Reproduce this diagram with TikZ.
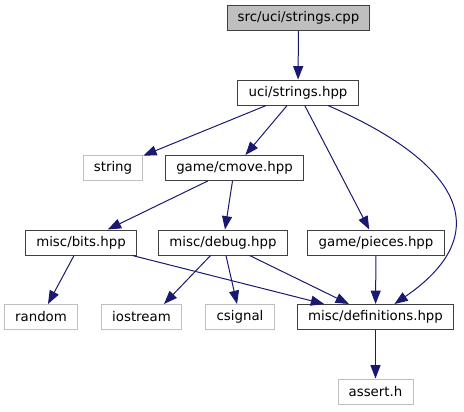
\documentclass[tikz,border=0pt]{standalone}
\usepackage{fontspec}
\setsansfont{DejaVu Sans}
\usetikzlibrary{arrows.meta}
\definecolor{cedge}{HTML}{191970}
\definecolor{cframe}{HTML}{404040}
\definecolor{csys}{HTML}{BFBFBF}
\definecolor{cmain}{HTML}{BFBFBF}
\tikzset{
  every picture/.style={font=\sffamily, line width=0.75pt},
  file/.style={draw=#1, fill=white, inner xsep=8pt, inner ysep=0pt, minimum height=18.75pt},
  file/.default=cframe,
  dep/.style={-{Triangle[length=10pt, width=7.5pt]}, draw=cedge, line width=0.75pt},
}
\begin{document}
\begin{tikzpicture}[x=0.75pt, y=-0.75pt,
  mainfile/.style={file, fill=cmain},
  sysfile/.style={file=csys}]
  \useasboundingbox (0,0) rectangle (464,411);
  % include graph, top to bottom
  \node[mainfile] (cpp) at (298.5, 18) {src/uci/strings.cpp};
  \node[file] (strhpp) at (298, 92.5) {uci/strings.hpp};
  \node[sysfile] (string) at (113, 168) {string};
  \node[file] (cmove) at (234.5, 168) {game/cmove.hpp};
  \node[file] (bits) at (81, 242.5) {misc/bits.hpp};
  \node[file] (debug) at (223, 242.5) {misc/debug.hpp};
  \node[file] (pieces) at (376, 242.5) {game/pieces.hpp};
  \node[sysfile] (random) at (41, 317) {random};
  \node[sysfile] (iostream) at (141.5, 317) {iostream};
  \node[sysfile] (csignal) at (240, 317) {csignal};
  \node[file] (defs) at (375.5, 317) {misc/definitions.hpp};
  \node[sysfile] (assert) at (375.5, 391.5) {assert.h};
  % dependencies
  \foreach \a/\b in {cpp/strhpp, strhpp/string, strhpp/cmove, strhpp/pieces, cmove/bits,
                     cmove/debug, bits/random, bits/defs, debug/csignal, debug/defs,
                     pieces/defs, defs/assert}
    \draw[dep] (\a) -- (\b);
  \draw[dep] (debug) -- (iostream.30);
  \draw[dep] (strhpp) .. controls (465,165) and (495,235) .. (defs);
\end{tikzpicture}
\end{document}
